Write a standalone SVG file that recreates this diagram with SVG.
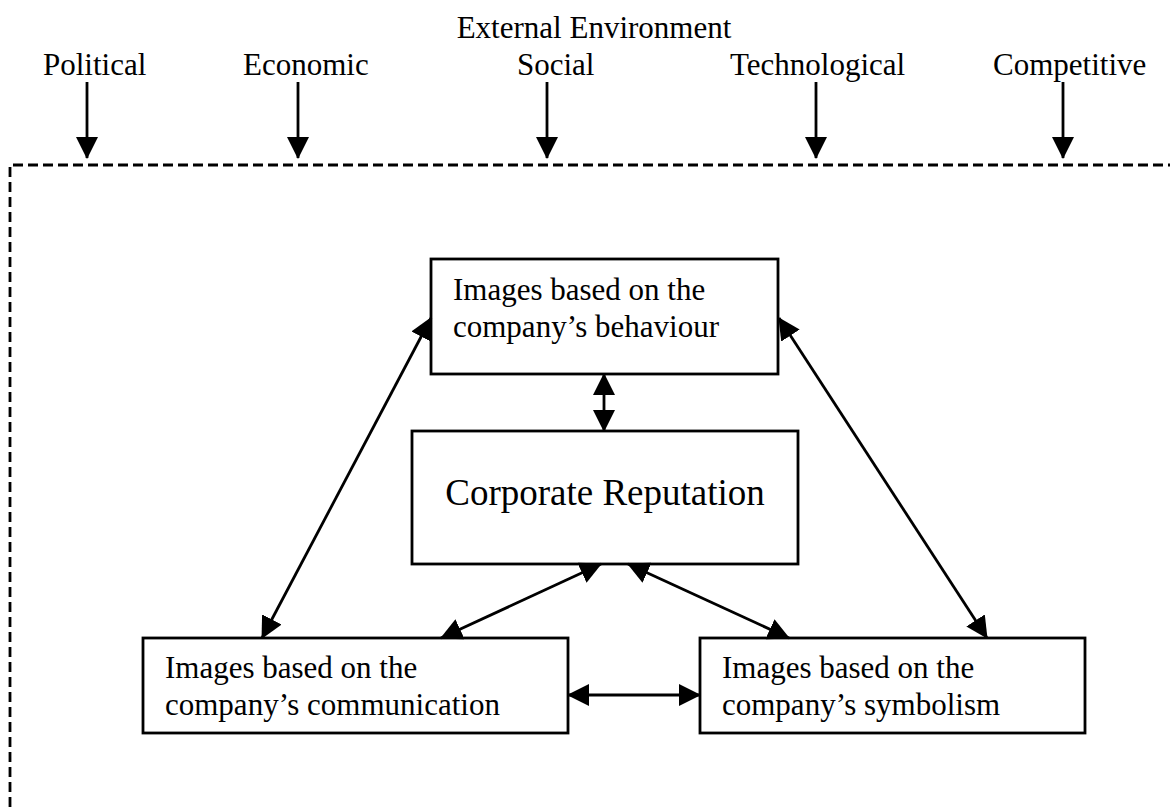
<svg xmlns="http://www.w3.org/2000/svg" width="1170" height="807" viewBox="0 0 1170 807">
<style>
  .t { font-family: "Liberation Serif", "Times New Roman", serif; font-size: 31px; fill: #000; }
  .big { font-size: 37px; }
  .box { fill: #fff; stroke: #000; stroke-width: 2.8; }
  .con { stroke: #000; stroke-width: 2.8; fill: none; }
  .dash { stroke: #000; stroke-width: 2.8; fill: none; stroke-dasharray: 10 5; }
</style>
<defs>
  <marker id="ah" markerUnits="userSpaceOnUse" viewBox="0 0 22 22" markerWidth="22" markerHeight="22" refX="21" refY="11" orient="auto-start-reverse">
    <path d="M0,0 L22,11 L0,22 z" fill="#000"/>
  </marker>
</defs>
<rect width="1170" height="807" fill="#fff"/>

<g id="environment">
  <text class="t" x="594" y="38" text-anchor="middle">External Environment</text>
  <text class="t" x="43" y="75">Political</text>
  <text class="t" x="243" y="75">Economic</text>
  <text class="t" x="517" y="75">Social</text>
  <text class="t" x="730" y="75">Technological</text>
  <text class="t" x="993" y="75">Competitive</text>
  <path class="dash" d="M10,807 V165 H1170"/>
</g>

<g id="n-behaviour">
  <rect class="box" x="431" y="259" width="347" height="115"/>
  <text class="t" x="453" y="300">Images based on the</text>
  <text class="t" x="453" y="337">company’s behaviour</text>
</g>

<g id="n-reputation">
  <rect class="box" x="412" y="431" width="386" height="133"/>
  <text class="t big" x="605" y="505" text-anchor="middle">Corporate Reputation</text>
</g>

<g id="n-communication">
  <rect class="box" x="143" y="638" width="425" height="95"/>
  <text class="t" x="165" y="678">Images based on the</text>
  <text class="t" x="165" y="715">company’s communication</text>
</g>

<g id="n-symbolism">
  <rect class="box" x="700" y="638" width="385" height="95"/>
  <text class="t" x="722" y="678">Images based on the</text>
  <text class="t" x="722" y="715">company’s symbolism</text>
</g>

<g id="connectors">
  <line class="con" x1="87" y1="82" x2="87" y2="158" marker-end="url(#ah)"/>
  <line class="con" x1="298" y1="82" x2="298" y2="158" marker-end="url(#ah)"/>
  <line class="con" x1="547" y1="82" x2="547" y2="158" marker-end="url(#ah)"/>
  <line class="con" x1="816" y1="82" x2="816" y2="158" marker-end="url(#ah)"/>
  <line class="con" x1="1063" y1="82" x2="1063" y2="158" marker-end="url(#ah)"/>

  <line class="con" x1="604" y1="374" x2="604" y2="431" marker-start="url(#ah)" marker-end="url(#ah)"/>
  <line class="con" x1="262" y1="638" x2="431" y2="318" marker-start="url(#ah)" marker-end="url(#ah)"/>
  <line class="con" x1="987" y1="638" x2="779" y2="318" marker-start="url(#ah)" marker-end="url(#ah)"/>
  <line class="con" x1="441" y1="638" x2="601" y2="564" marker-start="url(#ah)" marker-end="url(#ah)"/>
  <line class="con" x1="628" y1="564" x2="789" y2="638" marker-start="url(#ah)" marker-end="url(#ah)"/>
  <line class="con" x1="568" y1="695" x2="700" y2="695" marker-start="url(#ah)" marker-end="url(#ah)"/>
</g>
</svg>
